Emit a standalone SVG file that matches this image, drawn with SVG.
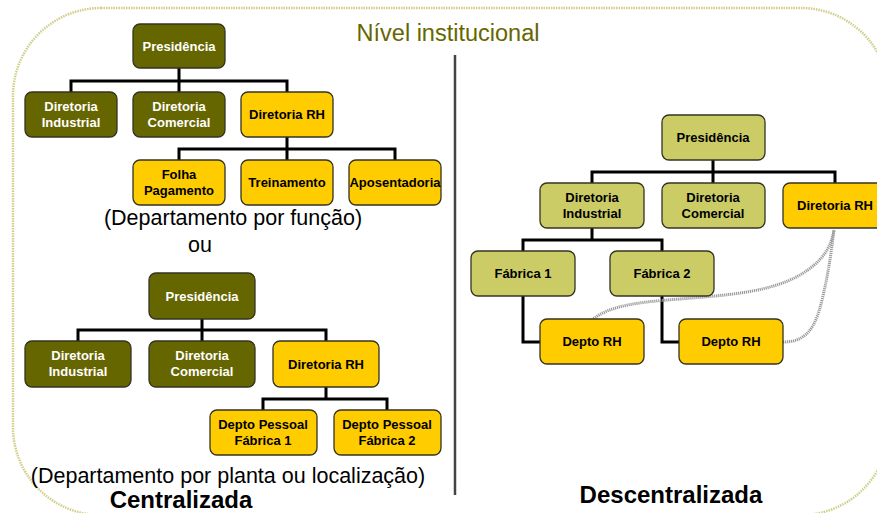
<svg xmlns="http://www.w3.org/2000/svg" width="877" height="513" viewBox="0 0 877 513">
<style>
.box{stroke:#333322;stroke-width:1.3}
.dk{fill:#666600}
.yl{fill:#ffcc00}
.lt{fill:#cccc66}
.bt{font-family:"Liberation Sans",Arial,sans-serif;font-weight:bold;font-size:13px;text-anchor:middle}
.w{fill:#ffffff}
.b{fill:#000000}
.con{fill:none;stroke:#000;stroke-width:3}
.rope{fill:none;stroke:#9a9a9a;stroke-width:3;stroke-dasharray:1.2 0.8}
.cap{font-family:"Liberation Sans",Arial,sans-serif;font-size:21.5px;fill:#000;text-anchor:middle}
.big{font-family:"Liberation Sans",Arial,sans-serif;font-size:24px;font-weight:bold;fill:#000;text-anchor:middle}
</style>
<rect x="0" y="0" width="877" height="513" fill="#ffffff"/>
<rect x="13" y="8" width="876" height="507" rx="88" ry="88" fill="none" stroke="#cfcf8a" stroke-width="2.5" stroke-dasharray="1.5 1"/>
<text x="448" y="41" font-family="Liberation Sans, Arial, sans-serif" font-size="23.5" fill="#666600" text-anchor="middle">Nível institucional</text>
<line x1="455" y1="55" x2="455" y2="495" stroke="#444" stroke-width="2.5"/>

<g id="connectors">
<path class="con" d="M179,68V81M71,92V81H287V92M179,81V92"/>
<path class="con" d="M287,137V149M179,160V149H395V160M287,149V160"/>
<path class="con" d="M202,319V330M78,341V330H326V341M202,330V341"/>
<path class="con" d="M326,387V399M263,410V399H387V410"/>
<path class="con" d="M713,160V172M592,183V172H835V183M713,172V183"/>
<path class="con" d="M592,228V240M523,251V240H662V251"/>
<path class="con" d="M523,296V342H540M662,296V342H679"/>
<path class="rope" d="M592,320C610,305 640,302 680,299C730,295 770,292 800,275C822,262 831,248 834,230"/>
<path class="rope" d="M783,342C805,342 815,330 822,300C828,275 831,255 834,230"/>
</g>

<g id="l1-pres"><rect class="box dk" x="133" y="24" width="92" height="44" rx="7"/><text class="bt w" x="179" y="51">Presidência</text></g>
<g id="l1-ind"><rect class="box dk" x="25" y="92" width="92" height="45" rx="7"/><text class="bt w" x="71" y="111">Diretoria</text><text class="bt w" x="71" y="127">Industrial</text></g>
<g id="l1-com"><rect class="box dk" x="133" y="92" width="92" height="45" rx="7"/><text class="bt w" x="179" y="111">Diretoria</text><text class="bt w" x="179" y="127">Comercial</text></g>
<g id="l1-rh"><rect class="box yl" x="241" y="92" width="92" height="45" rx="7"/><text class="bt b" x="287" y="119">Diretoria RH</text></g>
<g id="l1-folha"><rect class="box yl" x="133" y="160" width="92" height="45" rx="7"/><text class="bt b" x="179" y="179">Folha</text><text class="bt b" x="179" y="195">Pagamento</text></g>
<g id="l1-trein"><rect class="box yl" x="241" y="160" width="92" height="45" rx="7"/><text class="bt b" x="287" y="187">Treinamento</text></g>
<g id="l1-apos"><rect class="box yl" x="349" y="160" width="92" height="45" rx="7"/><text class="bt b" x="395" y="187">Aposentadoria</text></g>
<text class="cap" x="233" y="225">(Departamento por função)</text>
<text class="cap" x="200" y="252">ou</text>

<g id="l2-pres"><rect class="box dk" x="149" y="273" width="106" height="46" rx="7"/><text class="bt w" x="202" y="301">Presidência</text></g>
<g id="l2-ind"><rect class="box dk" x="25" y="341" width="106" height="46" rx="7"/><text class="bt w" x="78" y="360">Diretoria</text><text class="bt w" x="78" y="376">Industrial</text></g>
<g id="l2-com"><rect class="box dk" x="149" y="341" width="106" height="46" rx="7"/><text class="bt w" x="202" y="360">Diretoria</text><text class="bt w" x="202" y="376">Comercial</text></g>
<g id="l2-rh"><rect class="box yl" x="273" y="341" width="106" height="46" rx="7"/><text class="bt b" x="326" y="369">Diretoria RH</text></g>
<g id="l2-dp1"><rect class="box yl" x="210" y="410" width="107" height="45" rx="7"/><text class="bt b" x="263" y="429">Depto Pessoal</text><text class="bt b" x="263" y="445">Fábrica 1</text></g>
<g id="l2-dp2"><rect class="box yl" x="334" y="410" width="107" height="45" rx="7"/><text class="bt b" x="387" y="429">Depto Pessoal</text><text class="bt b" x="387" y="445">Fábrica 2</text></g>
<text class="cap" x="228" y="483">(Departamento por planta ou localização)</text>
<text class="big" x="181" y="508">Centralizada</text>

<g id="r-pres"><rect class="box lt" x="662" y="115" width="103" height="45" rx="7"/><text class="bt b" x="713" y="142">Presidência</text></g>
<g id="r-ind"><rect class="box lt" x="540" y="183" width="104" height="45" rx="7"/><text class="bt b" x="592" y="202">Diretoria</text><text class="bt b" x="592" y="218">Industrial</text></g>
<g id="r-com"><rect class="box lt" x="662" y="183" width="103" height="45" rx="7"/><text class="bt b" x="713" y="202">Diretoria</text><text class="bt b" x="713" y="218">Comercial</text></g>
<g id="r-rh"><rect class="box yl" x="783" y="183" width="104" height="45" rx="7"/><text class="bt b" x="835" y="210">Diretoria RH</text></g>
<g id="r-f1"><rect class="box lt" x="471" y="251" width="104" height="45" rx="7"/><text class="bt b" x="523" y="278">Fábrica 1</text></g>
<g id="r-f2"><rect class="box lt" x="610" y="251" width="104" height="45" rx="7"/><text class="bt b" x="662" y="278">Fábrica 2</text></g>
<g id="r-d1"><rect class="box yl" x="540" y="319" width="104" height="45" rx="7"/><text class="bt b" x="592" y="346">Depto RH</text></g>
<g id="r-d2"><rect class="box yl" x="679" y="319" width="104" height="45" rx="7"/><text class="bt b" x="731" y="346">Depto RH</text></g>
<text class="big" x="671" y="503">Descentralizada</text>
</svg>
